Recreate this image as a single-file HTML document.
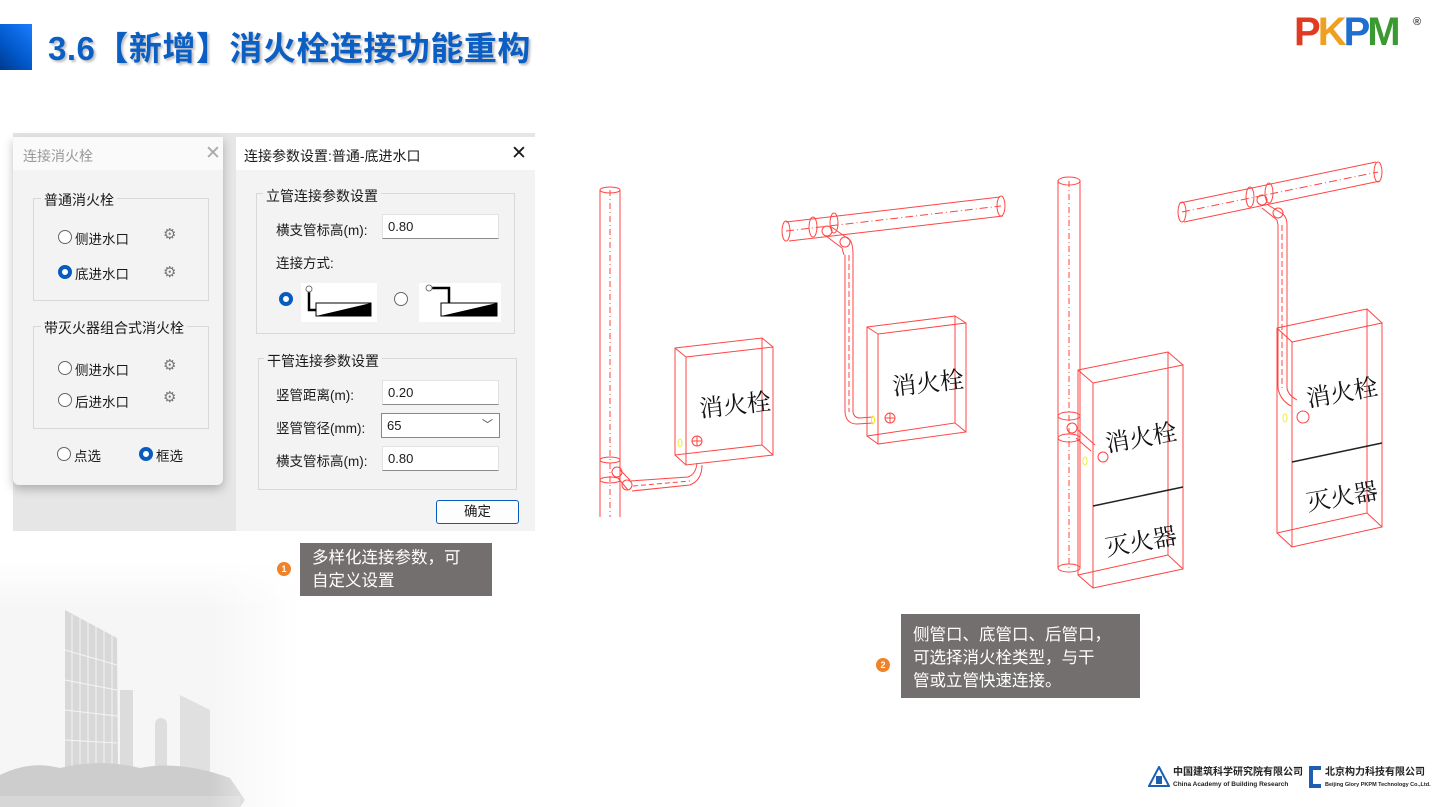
<!DOCTYPE html>
<html><head><meta charset="utf-8">
<style>
*{margin:0;padding:0;box-sizing:border-box}
body{width:1449px;height:807px;position:relative;overflow:hidden;background:#fff;font-family:"Liberation Sans","Noto Sans CJK SC",sans-serif}
.abs{position:absolute}
.title{left:48px;top:22px;font-size:33px;font-weight:bold;color:#0b5fc4;letter-spacing:0.5px;text-shadow:2px 2px 2px rgba(0,0,0,.25);font-family:"Liberation Sans","Noto Sans CJK SC",sans-serif}
.dlg{font-family:"Liberation Sans","Noto Sans CJK SC",sans-serif;color:#1a1a1a;font-size:13.5px}
.grp{position:absolute;border:1px solid #d8d8d8}
.glab{position:absolute;background:#f3f3f3;padding:0 3px;font-size:14px}
.radio{position:absolute;width:14px;height:14px;border-radius:50%;border:1.3px solid #666;background:#fff}
.radio.on{border:4px solid #0a5bbf}
.inp{position:absolute;background:#fff;border:1px solid #e2e2e2;border-bottom:1.5px solid #8a8a8a;font-size:13px;padding:4px 0 0 5px;height:25px}
.gear{position:absolute;font-size:15px;color:#777}
.note{position:absolute;background:#736f6e;color:#fff;font-size:16.5px;line-height:23px;padding:4px 12px}
.dot{position:absolute;width:14px;height:14px;border-radius:50%;background:#f0822a;color:#fff;font-size:9px;text-align:center;line-height:14px;font-weight:bold}
</style></head><body>

<!-- header -->
<div class="abs" style="left:0;top:24px;width:32px;height:46px;background:linear-gradient(225deg,#1a7dff,#0057c8 60%,#003a8c)"></div>
<div class="abs title">3.6【新增】消火栓连接功能重构</div>
<div class="abs" style="left:1294px;top:12px;font-size:40px;font-weight:900;letter-spacing:-3px;font-family:'Liberation Sans',sans-serif;line-height:40px">
<span style="color:#e03a22">P</span><span style="color:#f0a020">K</span><span style="color:#1e6fcf">P</span><span style="color:#3a9a30">M</span></div>
<div class="abs" style="left:1413px;top:16px;font-size:11px;color:#444;font-weight:bold">®</div>

<!-- building background -->
<svg class="abs" style="left:0;top:560px" width="300" height="247">
<defs>
<linearGradient id="fx" x1="0" y1="0" x2="1" y2="0"><stop offset="0" stop-color="#fff" stop-opacity="0"/><stop offset="0.7" stop-color="#fff" stop-opacity="0"/><stop offset="1" stop-color="#fff" stop-opacity="1"/></linearGradient>
<linearGradient id="fy" x1="0" y1="0" x2="0" y2="1"><stop offset="0" stop-color="#fff" stop-opacity="1"/><stop offset="0.2" stop-color="#fff" stop-opacity="0"/></linearGradient></defs>
<rect x="0" y="0" width="300" height="247" fill="#f6f6f6"/>
<polygon points="65,50 117,78 118,215 65,215" fill="#d8d8d8"/>
<g stroke="#f4f4f4" stroke-width="1">
<line x1="72" y1="55" x2="72" y2="215"/><line x1="80" y1="58" x2="80" y2="215"/><line x1="88" y1="62" x2="88" y2="215"/><line x1="96" y1="66" x2="96" y2="215"/><line x1="104" y1="70" x2="104" y2="215"/><line x1="112" y1="74" x2="112" y2="215"/>
<line x1="65" y1="90" x2="117" y2="105"/><line x1="65" y1="120" x2="117" y2="130"/><line x1="65" y1="150" x2="117" y2="156"/><line x1="65" y1="180" x2="117" y2="183"/>
</g>
<rect x="120" y="130" width="13" height="90" fill="#dcdcdc"/>
<rect x="155" y="158" width="12" height="60" rx="6" fill="#dedede"/>
<polygon points="180,135 210,150 210,220 180,220" fill="#e0e0e0"/>
<path d="M0,215 Q30,200 60,208 Q100,198 140,208 Q180,200 230,218 L245,240 L240,247 L0,247Z" fill="#cdcdcd"/>
<rect x="0" y="236" width="240" height="11" fill="#d6d6d6"/>
<rect x="0" y="0" width="300" height="247" fill="url(#fx)"/>
<rect x="0" y="0" width="300" height="247" fill="url(#fy)"/>
</svg>

<!-- dialog backdrop -->
<div class="abs" style="left:13px;top:133px;width:522px;height:398px;background:#e6e6e6"></div>

<!-- left dialog -->
<div class="abs dlg" style="left:13px;top:137px;width:210px;height:348px;background:#f3f3f3;border-radius:0 0 6px 6px;box-shadow:0 4px 10px rgba(0,0,0,.25)">
 <div style="position:absolute;left:0;top:0;width:210px;height:33px;background:#fafafa"></div>
 <div style="position:absolute;left:10px;top:9px;color:#999;font-size:14px">连接消火栓</div>
 <div style="position:absolute;left:192px;top:5px;color:#aaa;font-size:19px">✕</div>
 <div class="grp" style="left:20px;top:61px;width:176px;height:103px"></div>
 <div class="glab" style="left:28px;top:53px">普通消火栓</div>
 <div class="radio" style="left:45px;top:93px"></div><div style="position:absolute;left:62px;top:91px">侧进水口</div><div class="gear" style="left:150px;top:88px">⚙</div>
 <div class="radio on" style="left:45px;top:128px"></div><div style="position:absolute;left:62px;top:126px">底进水口</div><div class="gear" style="left:150px;top:126px">⚙</div>
 <div class="grp" style="left:20px;top:189px;width:176px;height:103px"></div>
 <div class="glab" style="left:28px;top:181px">带灭火器组合式消火栓</div>
 <div class="radio" style="left:45px;top:224px"></div><div style="position:absolute;left:62px;top:222px">侧进水口</div><div class="gear" style="left:150px;top:219px">⚙</div>
 <div class="radio" style="left:45px;top:256px"></div><div style="position:absolute;left:62px;top:254px">后进水口</div><div class="gear" style="left:150px;top:251px">⚙</div>
 <div class="radio" style="left:44px;top:310px"></div><div style="position:absolute;left:61px;top:308px">点选</div>
 <div class="radio on" style="left:126px;top:310px"></div><div style="position:absolute;left:143px;top:308px">框选</div>
</div>

<!-- right dialog -->
<div class="abs dlg" style="left:236px;top:137px;width:299px;height:394px;background:#f3f3f3;border-radius:4px 0 0 0">
 <div style="position:absolute;left:0;top:0;width:299px;height:33px;background:#fff"></div>
 <div style="position:absolute;left:8px;top:9px;font-size:14px">连接参数设置:普通-底进水口</div>
 <div style="position:absolute;left:275px;top:5px;font-size:19px">✕</div>
 <div class="grp" style="left:20px;top:56px;width:259px;height:141px"></div>
 <div class="glab" style="left:27px;top:49px">立管连接参数设置</div>
 <div style="position:absolute;left:40px;top:82px">横支管标高(m):</div>
 <div class="inp" style="left:146px;top:77px;width:117px">0.80</div>
 <div style="position:absolute;left:40px;top:115px">连接方式:</div>
 <div class="radio on" style="left:43px;top:155px"></div>
 <svg style="position:absolute;left:56px;top:146px" width="146" height="40">
  <rect x="9" y="0" width="76" height="39" fill="#fff"/>
  <polyline points="17,5 17,27 24,27" fill="none" stroke="#000" stroke-width="2.5"/>
  <circle cx="17" cy="6" r="3" fill="#fff" stroke="#777"/>
  <rect x="24" y="20" width="55" height="13" fill="#fff" stroke="#000"/>
  <polygon points="24,33 79,20 79,33" fill="#000"/>
 </svg>
 <div class="radio" style="left:158px;top:155px"></div>
 <svg style="position:absolute;left:183px;top:146px" width="82" height="40">
  <rect x="0" y="0" width="82" height="39" fill="#fff"/>
  <polyline points="10,5 30,5 30,20" fill="none" stroke="#000" stroke-width="2.5"/>
  <circle cx="10" cy="5" r="3" fill="#fff" stroke="#777"/>
  <rect x="22" y="20" width="56" height="13" fill="#fff" stroke="#000"/>
  <polygon points="22,33 78,20 78,33" fill="#000"/>
 </svg>
 <div class="grp" style="left:22px;top:221px;width:259px;height:132px"></div>
 <div class="glab" style="left:28px;top:214px">干管连接参数设置</div>
 <div style="position:absolute;left:40px;top:247px">竖管距离(m):</div>
 <div class="inp" style="left:146px;top:243px;width:117px">0.20</div>
 <div style="position:absolute;left:40px;top:280px">竖管管径(mm):</div>
 <div class="inp" style="left:145px;top:276px;width:119px;border:1px solid #888">65<span style="position:absolute;right:6px;top:2px;font-size:11px;color:#444">﹀</span></div>
 <div style="position:absolute;left:40px;top:313px">横支管标高(m):</div>
 <div class="inp" style="left:146px;top:309px;width:117px">0.80</div>
 <div style="position:absolute;left:200px;top:363px;width:83px;height:24px;border:1.5px solid #0a5bbf;border-radius:3px;background:#fdfdfd;text-align:center;line-height:21px">确定</div>
</div>

<!-- drawings -->
<svg class="abs" style="left:0;top:0" width="1449" height="807" fill="none" stroke="#f44" stroke-width="1">
<!-- drawing 1 -->
<line x1="600" y1="190" x2="600" y2="517"/><line x1="620" y1="190" x2="620" y2="517"/>
<ellipse cx="610" cy="190" rx="10" ry="3"/>
<line x1="610" y1="190" x2="610" y2="517" stroke-dasharray="6,3,1,3"/>
<ellipse cx="610" cy="460" rx="10" ry="3"/><ellipse cx="610" cy="480" rx="10" ry="3"/>
<circle cx="617" cy="472" r="5"/><circle cx="627" cy="485" r="5"/>
<path d="M620,470 L630,480 M618,478 L628,490"/>
<path d="M630,481 L688,477 Q696,474 697,463 M632,491 L690,485 Q702,480 702,465"/>
<line x1="633" y1="486" x2="690" y2="481" stroke-dasharray="5,3"/>
<polygon points="675,348 762,338 762,445 675,455"/>
<polygon points="686,357 773,347 773,455 686,465"/>
<line x1="675" y1="348" x2="686" y2="357"/><line x1="762" y1="338" x2="773" y2="347"/><line x1="762" y1="445" x2="773" y2="455"/><line x1="675" y1="455" x2="686" y2="465"/>
<circle cx="697" cy="441" r="5"/><path d="M692,441 H702 M697,436 V446"/>
<ellipse cx="680" cy="443" rx="2" ry="4" stroke="#ee3"/>
<!-- drawing 2 -->
<path d="M786,222 L1000,197 M789,241 L1003,216"/>
<ellipse cx="786" cy="231" rx="4" ry="10"/><ellipse cx="1001" cy="206" rx="4" ry="10"/>
<ellipse cx="813" cy="227" rx="4" ry="10"/><ellipse cx="834" cy="223" rx="4" ry="10"/>
<line x1="786" y1="231" x2="1001" y2="206" stroke-dasharray="8,3,1,3"/>
<circle cx="827" cy="231" r="5"/><circle cx="845" cy="242" r="5"/>
<path d="M830,226 L850,240 Q853,244 853,255 M826,236 L842,248 L844,255"/>
<line x1="845" y1="255" x2="845" y2="412"/><line x1="853" y1="255" x2="853" y2="412"/>
<line x1="849" y1="255" x2="849" y2="412" stroke-dasharray="6,3"/>
<path d="M845,412 Q846,424 857,424 L873,423 M853,412 Q854,418 860,418 L873,417"/>
<ellipse cx="873" cy="420" rx="1.5" ry="4" stroke="#ee3"/>
<polygon points="867,327 955,316 955,423 867,436"/>
<polygon points="878,334 966,323 966,432 878,444"/>
<line x1="867" y1="327" x2="878" y2="334"/><line x1="955" y1="316" x2="966" y2="323"/><line x1="955" y1="423" x2="966" y2="432"/><line x1="867" y1="436" x2="878" y2="444"/>
<circle cx="890" cy="418" r="5"/><path d="M885,418 H895 M890,413 V423"/>
<!-- drawing 3 -->
<line x1="1058" y1="180" x2="1058" y2="568"/><line x1="1080" y1="180" x2="1080" y2="568"/>
<ellipse cx="1069" cy="181" rx="11" ry="4"/><ellipse cx="1069" cy="568" rx="11" ry="4"/>
<line x1="1069" y1="181" x2="1069" y2="568" stroke-dasharray="6,3,1,3"/>
<ellipse cx="1069" cy="416" rx="11" ry="4"/><ellipse cx="1069" cy="438" rx="11" ry="4"/>
<circle cx="1072" cy="428" r="5"/><path d="M1078,430 L1095,445 M1076,438 L1091,451"/>
<circle cx="1103" cy="457" r="5"/>
<ellipse cx="1085" cy="461" rx="2" ry="4" stroke="#ee3"/>
<polygon points="1078,370 1168,352 1168,555 1078,575"/>
<polygon points="1093,383 1183,365 1183,569 1093,588"/>
<line x1="1078" y1="370" x2="1093" y2="383"/><line x1="1168" y1="352" x2="1183" y2="365"/><line x1="1168" y1="555" x2="1183" y2="569"/><line x1="1078" y1="575" x2="1093" y2="588"/>
<line x1="1093" y1="506" x2="1183" y2="487" stroke="#222" stroke-width="1.5"/>
<!-- drawing 4 -->
<path d="M1180,203 L1376,162 M1184,222 L1380,181"/>
<ellipse cx="1182" cy="212" rx="4" ry="10"/><ellipse cx="1378" cy="172" rx="4" ry="10"/>
<ellipse cx="1250" cy="197" rx="4" ry="10"/><ellipse cx="1269" cy="193" rx="4" ry="10"/>
<line x1="1182" y1="212" x2="1378" y2="172" stroke-dasharray="8,3,1,3"/>
<circle cx="1262" cy="200" r="5"/><circle cx="1278" cy="213" r="5"/>
<path d="M1268,205 L1283,214 Q1287,218 1287,225 M1262,208 L1277,220 L1278,225"/>
<line x1="1278" y1="225" x2="1278" y2="388"/><line x1="1287" y1="225" x2="1287" y2="388"/>
<line x1="1282" y1="225" x2="1282" y2="388" stroke-dasharray="6,3"/>
<path d="M1278,388 Q1280,400 1291,406 M1287,388 Q1288,395 1297,400"/>
<circle cx="1303" cy="417" r="6"/>
<ellipse cx="1285" cy="418" rx="2" ry="4" stroke="#ee3"/>
<polygon points="1277,328 1367,309 1367,513 1277,533"/>
<polygon points="1292,342 1382,323 1382,527 1292,547"/>
<line x1="1277" y1="328" x2="1292" y2="342"/><line x1="1367" y1="309" x2="1382" y2="323"/><line x1="1367" y1="513" x2="1382" y2="527"/><line x1="1277" y1="533" x2="1292" y2="547"/>
<line x1="1292" y1="462" x2="1382" y2="443" stroke="#222" stroke-width="1.5"/>
<g fill="#111" stroke="none" font-family="'Noto Serif CJK SC','Liberation Serif',serif" font-size="24">
<text x="700" y="417" transform="rotate(-6 700 417)">消火栓</text>
<text x="893" y="395" transform="rotate(-6 893 395)">消火栓</text>
<text x="1107" y="452" transform="rotate(-10 1107 452)">消火栓</text>
<text x="1107" y="556" transform="rotate(-10 1107 556)">灭火器</text>
<text x="1308" y="407" transform="rotate(-10 1308 407)">消火栓</text>
<text x="1308" y="511" transform="rotate(-10 1308 511)">灭火器</text>
</g>
</svg>

<!-- notes -->
<div class="dot" style="left:277px;top:562px">1</div>
<div class="note" style="left:300px;top:543px;width:192px;height:53px">多样化连接参数，可<br>自定义设置</div>
<div class="dot" style="left:876px;top:658px">2</div>
<div class="note" style="left:901px;top:614px;width:239px;height:84px;padding-top:10px">侧管口、底管口、后管口，<br>可选择消火栓类型，与干<br>管或立管快速连接。</div>

<!-- footer logos -->
<svg class="abs" style="left:1148px;top:766px" width="22" height="22"><polygon points="11,1 21,20 1,20" fill="none" stroke="#1f5fb0" stroke-width="2"/><rect x="8" y="10" width="6" height="8" fill="#1f5fb0"/></svg>
<div class="abs" style="left:1173px;top:767px;font-size:10px;font-weight:bold;color:#222;line-height:11px">中国建筑科学研究院有限公司<br><span style="font-size:6.5px">China Academy of Building Research</span></div>
<div class="abs" style="left:1309px;top:766px;width:12px;height:22px;border:4px solid #1f5fb0;border-right:none"></div>
<div class="abs" style="left:1325px;top:767px;font-size:10px;font-weight:bold;color:#222;line-height:11px">北京构力科技有限公司<br><span style="font-size:5.5px">Beijing Glory PKPM Technology Co.,Ltd.</span></div>
</body></html>
